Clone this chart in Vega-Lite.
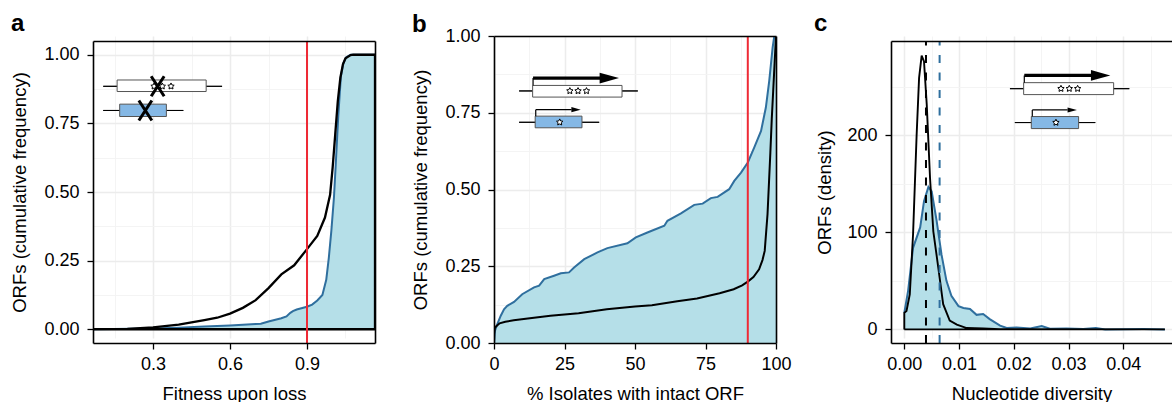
{
"$schema":"https://vega.github.io/schema/vega-lite/v6.json",
"padding":{"left":10,"top":12,"right":0,"bottom":2},
"background":"white",
"config":{"view":{"stroke":null},"font":"Liberation Sans",
"axis":{"labelFont":"Liberation Sans","titleFont":"Liberation Sans","labelFontSize":18,"titleFontSize":18.5,"titleFontWeight":"normal","labelColor":"black","titleColor":"black","tickColor":"black","tickSize":6,"tickWidth":1.3,"domainColor":"black","domainWidth":1.6,"labelPadding":8,"gridColor":"#ececec","gridWidth":1.5,"labelOverlap":false,"labelFlush":false},
"title":{"font":"Liberation Sans","fontSize":24,"fontWeight":"bold","color":"black","anchor":"start","frame":"group"}},
"datasets":{
"a_curves":[
{"group":"all","fitness":0.066,"cum":0},{"group":"all","fitness":0.2,"cum":0.001},{"group":"all","fitness":0.3,"cum":0.007},{"group":"all","fitness":0.4,"cum":0.017},{"group":"all","fitness":0.5,"cum":0.033},{"group":"all","fitness":0.55,"cum":0.042},{"group":"all","fitness":0.6,"cum":0.057},{"group":"all","fitness":0.65,"cum":0.078},{"group":"all","fitness":0.7,"cum":0.106},{"group":"all","fitness":0.75,"cum":0.15},{"group":"all","fitness":0.8,"cum":0.2},{"group":"all","fitness":0.85,"cum":0.233},{"group":"all","fitness":0.9,"cum":0.292},{"group":"all","fitness":0.94,"cum":0.34},{"group":"all","fitness":0.97,"cum":0.407},{"group":"all","fitness":0.99,"cum":0.49},{"group":"all","fitness":1.0,"cum":0.59},{"group":"all","fitness":1.01,"cum":0.71},{"group":"all","fitness":1.02,"cum":0.83},{"group":"all","fitness":1.03,"cum":0.916},{"group":"all","fitness":1.04,"cum":0.965},{"group":"all","fitness":1.05,"cum":0.987},{"group":"all","fitness":1.07,"cum":0.999},{"group":"all","fitness":1.08,"cum":1},{"group":"all","fitness":1.165,"cum":1},{"group":"all","fitness":1.165,"cum":0},{"group":"all","fitness":0.066,"cum":0},
{"group":"subset","fitness":0.066,"cum":0},{"group":"subset","fitness":0.3,"cum":0.003},{"group":"subset","fitness":0.4,"cum":0.006},{"group":"subset","fitness":0.5,"cum":0.01},{"group":"subset","fitness":0.6,"cum":0.014},{"group":"subset","fitness":0.7,"cum":0.019},{"group":"subset","fitness":0.72,"cum":0.02},{"group":"subset","fitness":0.75,"cum":0.028},{"group":"subset","fitness":0.8,"cum":0.04},{"group":"subset","fitness":0.82,"cum":0.047},{"group":"subset","fitness":0.835,"cum":0.06},{"group":"subset","fitness":0.845,"cum":0.066},{"group":"subset","fitness":0.86,"cum":0.072},{"group":"subset","fitness":0.9,"cum":0.082},{"group":"subset","fitness":0.92,"cum":0.09},{"group":"subset","fitness":0.94,"cum":0.105},{"group":"subset","fitness":0.96,"cum":0.125},{"group":"subset","fitness":0.975,"cum":0.18},{"group":"subset","fitness":0.985,"cum":0.26},{"group":"subset","fitness":0.995,"cum":0.36},{"group":"subset","fitness":1.005,"cum":0.48},{"group":"subset","fitness":1.012,"cum":0.6},{"group":"subset","fitness":1.022,"cum":0.78},{"group":"subset","fitness":1.032,"cum":0.92},{"group":"subset","fitness":1.042,"cum":0.97},{"group":"subset","fitness":1.052,"cum":0.99},{"group":"subset","fitness":1.07,"cum":1},{"group":"subset","fitness":1.165,"cum":1}],
"b_curves":[
{"group":"subset","pct":0,"cum":0},{"group":"subset","pct":0.35,"cum":0.04},{"group":"subset","pct":1.2,"cum":0.062},{"group":"subset","pct":2.4,"cum":0.089},{"group":"subset","pct":3.55,"cum":0.11},{"group":"subset","pct":4.7,"cum":0.121},{"group":"subset","pct":7.1,"cum":0.134},{"group":"subset","pct":10,"cum":0.159},{"group":"subset","pct":14.2,"cum":0.181},{"group":"subset","pct":16,"cum":0.187},{"group":"subset","pct":17.8,"cum":0.208},{"group":"subset","pct":21.3,"cum":0.219},{"group":"subset","pct":23.7,"cum":0.227},{"group":"subset","pct":26.6,"cum":0.23},{"group":"subset","pct":28.4,"cum":0.246},{"group":"subset","pct":32,"cum":0.273},{"group":"subset","pct":36.7,"cum":0.295},{"group":"subset","pct":40.2,"cum":0.309},{"group":"subset","pct":47.3,"cum":0.325},{"group":"subset","pct":50.3,"cum":0.344},{"group":"subset","pct":54.4,"cum":0.36},{"group":"subset","pct":60.4,"cum":0.382},{"group":"subset","pct":61.5,"cum":0.398},{"group":"subset","pct":66.3,"cum":0.422},{"group":"subset","pct":71,"cum":0.45},{"group":"subset","pct":74,"cum":0.454},{"group":"subset","pct":76.9,"cum":0.472},{"group":"subset","pct":79.3,"cum":0.476},{"group":"subset","pct":83.4,"cum":0.501},{"group":"subset","pct":85.2,"cum":0.528},{"group":"subset","pct":87.6,"cum":0.555},{"group":"subset","pct":90,"cum":0.588},{"group":"subset","pct":92.3,"cum":0.637},{"group":"subset","pct":94.7,"cum":0.691},{"group":"subset","pct":96.4,"cum":0.767},{"group":"subset","pct":97.6,"cum":0.854},{"group":"subset","pct":98.8,"cum":0.962},{"group":"subset","pct":99.4,"cum":1},{"group":"subset","pct":100,"cum":1},
{"group":"all","pct":0,"cum":0},{"group":"all","pct":0.05,"cum":0.03},{"group":"all","pct":0.3,"cum":0.05},{"group":"all","pct":1,"cum":0.056},{"group":"all","pct":2,"cum":0.064},{"group":"all","pct":4,"cum":0.069},{"group":"all","pct":7,"cum":0.074},{"group":"all","pct":12,"cum":0.08},{"group":"all","pct":20,"cum":0.089},{"group":"all","pct":30,"cum":0.097},{"group":"all","pct":40,"cum":0.11},{"group":"all","pct":50,"cum":0.119},{"group":"all","pct":56,"cum":0.123},{"group":"all","pct":65,"cum":0.136},{"group":"all","pct":72,"cum":0.145},{"group":"all","pct":80,"cum":0.162},{"group":"all","pct":85,"cum":0.175},{"group":"all","pct":88,"cum":0.188},{"group":"all","pct":90,"cum":0.2},{"group":"all","pct":92,"cum":0.215},{"group":"all","pct":94,"cum":0.24},{"group":"all","pct":95.2,"cum":0.27},{"group":"all","pct":96,"cum":0.3},{"group":"all","pct":97,"cum":0.42},{"group":"all","pct":98,"cum":0.62},{"group":"all","pct":98.5,"cum":0.73},{"group":"all","pct":99,"cum":0.82},{"group":"all","pct":99.5,"cum":0.91},{"group":"all","pct":100,"cum":1}],
"c_curves":[
{"group":"all","pi":0,"density":0},{"group":"all","pi":0,"density":17},{"group":"all","pi":0.0004,"density":19},{"group":"all","pi":0.001,"density":36},{"group":"all","pi":0.0016,"density":98},{"group":"all","pi":0.00225,"density":200},{"group":"all","pi":0.0027,"density":259},{"group":"all","pi":0.00317,"density":282},{"group":"all","pi":0.0036,"density":276},{"group":"all","pi":0.0041,"density":231.5},{"group":"all","pi":0.0047,"density":156},{"group":"all","pi":0.0053,"density":101},{"group":"all","pi":0.0062,"density":64},{"group":"all","pi":0.0071,"density":26},{"group":"all","pi":0.0083,"density":9},{"group":"all","pi":0.0096,"density":5},{"group":"all","pi":0.0114,"density":1.4},{"group":"all","pi":0.0144,"density":1},{"group":"all","pi":0.0175,"density":0.3},{"group":"all","pi":0.0476,"density":0},{"group":"all","pi":0,"density":0},
{"group":"subset","pi":0,"density":17},{"group":"subset","pi":0.0007,"density":40},{"group":"subset","pi":0.0016,"density":84},{"group":"subset","pi":0.0029,"density":105},{"group":"subset","pi":0.0036,"density":132},{"group":"subset","pi":0.0044,"density":146.6},{"group":"subset","pi":0.005,"density":142},{"group":"subset","pi":0.0059,"density":112},{"group":"subset","pi":0.0068,"density":77},{"group":"subset","pi":0.0077,"density":50},{"group":"subset","pi":0.0086,"density":34.6},{"group":"subset","pi":0.0099,"density":24},{"group":"subset","pi":0.0108,"density":22},{"group":"subset","pi":0.012,"density":21},{"group":"subset","pi":0.0132,"density":15},{"group":"subset","pi":0.0144,"density":15.8},{"group":"subset","pi":0.0156,"density":10.6},{"group":"subset","pi":0.0175,"density":3.8},{"group":"subset","pi":0.0187,"density":1.4},{"group":"subset","pi":0.0205,"density":2},{"group":"subset","pi":0.023,"density":1},{"group":"subset","pi":0.0251,"density":3.4},{"group":"subset","pi":0.0266,"density":0.7},{"group":"subset","pi":0.0296,"density":1},{"group":"subset","pi":0.0327,"density":0.3},{"group":"subset","pi":0.035,"density":1.4},{"group":"subset","pi":0.0367,"density":0},{"group":"subset","pi":0.0437,"density":0.3},{"group":"subset","pi":0.0476,"density":0}],
"a_boxes":[{"gene":"long","start":0.16,"end":0.507,"from":0.106,"to":0.569,"low":0.866,"high":0.908,"mid":0.885},{"gene":"short","start":0.17,"end":0.352,"from":0.106,"to":0.418,"low":0.775,"high":0.82,"mid":0.797}],
"a_stars":[{"at":0.304,"level":0.885},{"at":0.336,"level":0.885},{"at":0.37,"level":0.885}],
"a_cross":[{"at":0.318,"level":0.885},{"at":0.27,"level":0.797}],
"b_boxes":[{"gene":"long","start":13.7,"end":45.4,"from":8.9,"to":51,"low":0.801,"high":0.839,"mid":0.821,"base":13.85,"tip":37.9,"head":40.9,"arrow":0.863},{"gene":"short","start":14.6,"end":31.2,"from":8.9,"to":37.3,"low":0.701,"high":0.739,"mid":0.719,"base":14.8,"tip":27.5,"head":29.1,"arrow":0.76}],
"b_stars":[{"at":26.9,"level":0.821},{"at":29.8,"level":0.821},{"at":32.8,"level":0.821},{"at":23.3,"level":0.719}],
"c_boxes":[{"gene":"long","start":0.0218,"end":0.03824,"from":0.0193,"to":0.0411,"low":241.8,"high":254.1,"mid":247.9,"base":0.02192,"tip":0.0342,"head":0.03586,"arrow":261.6},{"gene":"short","start":0.0232,"end":0.03184,"from":0.0202,"to":0.03489,"low":206.8,"high":219.2,"mid":213,"base":0.02338,"tip":0.02983,"head":0.03068,"arrow":226}],
"c_stars":[{"at":0.02862,"level":247.9},{"at":0.03014,"level":247.9},{"at":0.03166,"level":247.9},{"at":0.0277,"level":213}],
"a_cut":[{"at":0.9}],"b_cut":[{"at":90}],
"c_means":[{"group":"all","at":0.00396},{"group":"subset","at":0.00645}]
},
"concat":[
{"concat":[
{"width":282,"height":307,"title":{"text":"a","dx":-82,"offset":0},
"resolve":{"axis":{"x":"independent","y":"independent"}},
"layer":[
{"data":{"name":"a_cut"},"mark":{"type":"rule","opacity":0},"encoding":{
"x":{"field":"at","type":"quantitative","scale":{"domain":[0.066,1.165],"nice":false,"zero":false},"axis":{"orient":"bottom","values":[0.15,0.45,0.75,1.05],"grid":true,"gridColor":"#f3f3f3","gridWidth":0.9,"labels":false,"ticks":false,"domain":false,"title":null}},"y":{"datum":-0.05,"axis":null},"y2":{"datum":1.05}}},
{"data":{"name":"a_boxes"},"mark":{"type":"rule","color":"black","strokeWidth":1},"encoding":{"x":{"field":"from","type":"quantitative","axis":{"orient":"bottom","values":[0.3,0.6,0.9],"grid":true,"labels":false,"ticks":false,"domain":false,"title":null}},"x2":{"field":"to"},"y":{"field":"mid","type":"quantitative","scale":{"domain":[-0.05,1.05],"nice":false,"zero":false,"range":[307,5]},"axis":{"orient":"left","values":[0,0.25,0.5,0.75,1],"grid":true,"labels":false,"ticks":false,"domain":false,"title":null}}}},
{"data":{"name":"a_curves"},"transform":[{"filter":"datum.group==='subset'"}],"mark":{"type":"area","color":"#b5dfe8","clip":true},"encoding":{
"x":{"field":"fitness","type":"quantitative","axis":{"orient":"bottom","values":[0.3,0.6,0.9],"format":".1f","grid":false,"zindex":1,"title":"Fitness upon loss","titlePadding":11,"labelPadding":6}},
"y":{"field":"cum","type":"quantitative","axis":{"orient":"left","values":[0,0.25,0.5,0.75,1],"format":".2f","grid":false,"zindex":1,"title":"ORFs (cumulative frequency)","titlePadding":14}}}},
{"data":{"name":"a_curves"},"transform":[{"filter":"datum.group==='subset'"}],"mark":{"type":"line","color":"#2f6f9e","strokeWidth":2,"clip":true},"encoding":{
"x":{"field":"fitness","type":"quantitative","axis":null},
"y":{"field":"cum","type":"quantitative","axis":{"orient":"left","values":[0.125,0.375,0.625,0.875],"grid":true,"gridColor":"#f3f3f3","gridWidth":0.9,"labels":false,"ticks":false,"domain":false,"title":null}}}},
{"data":{"name":"a_boxes"},"mark":{"type":"rule","color":"black","strokeWidth":1},"encoding":{"x":{"field":"from","type":"quantitative","axis":null},"x2":{"field":"to"},"y":{"field":"mid","type":"quantitative","axis":null}}},
{"data":{"name":"a_boxes"},"mark":{"type":"rect","stroke":"#555555","strokeWidth":1},"encoding":{"x":{"field":"start","type":"quantitative","axis":null},"x2":{"field":"end"},"y":{"field":"low","type":"quantitative","axis":null},"y2":{"field":"high"},"fill":{"field":"gene","type":"nominal","legend":null,"scale":{"domain":["long","short"],"range":["white","#85b8e5"]}}}},
{"data":{"name":"a_stars"},"mark":{"type":"point","filled":true,"fill":"white","stroke":"black","strokeWidth":1,"opacity":1,"size":45,"shape":"M0,-1L.29,-.4L.95,-.31L.48,.15L.59,.81L0,.5L-.59,.81L-.48,.15L-.95,-.31L-.29,-.4Z"},"encoding":{"x":{"field":"at","type":"quantitative","axis":null},"y":{"field":"level","type":"quantitative","axis":null}}},
{"data":{"name":"a_cross"},"mark":{"type":"point","filled":false,"stroke":"black","strokeWidth":3,"opacity":1,"size":400,"shape":"M-.65,-1L.65,1M-.65,1L.65,-1"},"encoding":{"x":{"field":"at","type":"quantitative","axis":null},"y":{"field":"level","type":"quantitative","axis":null}}},
{"data":{"name":"a_curves"},"transform":[{"filter":"datum.group==='all'"}],"mark":{"type":"line","color":"black","strokeWidth":2.3,"clip":true},"encoding":{
"order":{"value":null},
"x":{"field":"fitness","type":"quantitative","axis":{"orient":"top","offset":-5,"labels":false,"ticks":false,"grid":false,"domain":true,"title":null,"zindex":1,"values":[]}},
"y":{"field":"cum","type":"quantitative","axis":{"orient":"right","labels":false,"ticks":false,"grid":false,"domain":true,"title":null,"zindex":1,"values":[]}}}},
{"data":{"name":"a_cut"},"mark":{"type":"rule","color":"#ee2a35","strokeWidth":2},"encoding":{"x":{"field":"at","type":"quantitative","axis":null},"y":{"datum":-0.05,"axis":null},"y2":{"datum":1.05}}}
]},
{"width":282,"height":307,"title":{"text":"b","dx":-82,"offset":-10},
"resolve":{"axis":{"x":"independent","y":"independent"}},
"layer":[
{"data":{"name":"b_cut"},"mark":{"type":"rule","opacity":0},"encoding":{
"x":{"field":"at","type":"quantitative","scale":{"domain":[0,100],"nice":false,"zero":false},"axis":{"orient":"bottom","values":[12.5,37.5,62.5,87.5],"grid":true,"gridColor":"#f3f3f3","gridWidth":0.9,"labels":false,"ticks":false,"domain":false,"title":null}}}},
{"data":{"name":"b_boxes"},"mark":{"type":"rule","color":"black","strokeWidth":1},"encoding":{"x":{"field":"from","type":"quantitative","axis":{"orient":"bottom","values":[0,25,50,75,100],"grid":true,"labels":false,"ticks":false,"domain":false,"title":null}},"x2":{"field":"to"},"y":{"field":"mid","type":"quantitative","scale":{"domain":[0,1],"nice":false,"zero":false},"axis":{"orient":"left","values":[0,0.25,0.5,0.75,1],"grid":true,"labels":false,"ticks":false,"domain":false,"title":null}}}},
{"data":{"name":"b_curves"},"transform":[{"filter":"datum.group==='subset'"}],"mark":{"type":"area","color":"#b5dfe8","clip":true},"encoding":{
"x":{"field":"pct","type":"quantitative","axis":{"orient":"bottom","values":[0,25,50,75,100],"format":"d","grid":false,"zindex":1,"title":"% Isolates with intact ORF","titlePadding":11,"labelPadding":6}},
"y":{"field":"cum","type":"quantitative","axis":{"orient":"left","values":[0,0.25,0.5,0.75,1],"format":".2f","grid":false,"zindex":1,"title":"ORFs (cumulative frequency)","titlePadding":14}}}},
{"data":{"name":"b_curves"},"transform":[{"filter":"datum.group==='subset'"}],"mark":{"type":"line","color":"#2f6f9e","strokeWidth":2,"clip":true},"encoding":{
"x":{"field":"pct","type":"quantitative","axis":null},
"y":{"field":"cum","type":"quantitative","axis":{"orient":"left","values":[0.125,0.375,0.625,0.875],"grid":true,"gridColor":"#f3f3f3","gridWidth":0.9,"labels":false,"ticks":false,"domain":false,"title":null}}}},
{"data":{"name":"b_boxes"},"mark":{"type":"rule","color":"black","strokeWidth":1},"encoding":{"x":{"field":"from","type":"quantitative","axis":null},"x2":{"field":"to"},"y":{"field":"mid","type":"quantitative","axis":null}}},
{"data":{"name":"b_boxes"},"mark":{"type":"rect","stroke":"#555555","strokeWidth":1},"encoding":{"x":{"field":"start","type":"quantitative","axis":null},"x2":{"field":"end"},"y":{"field":"low","type":"quantitative","axis":null},"y2":{"field":"high"},"fill":{"field":"gene","type":"nominal","legend":null,"scale":{"domain":["long","short"],"range":["white","#85b8e5"]}}}},
{"data":{"name":"b_boxes"},"mark":{"type":"rule","color":"black","strokeWidth":1.2},"encoding":{"x":{"field":"base","type":"quantitative","axis":null},"y":{"field":"high","type":"quantitative","axis":null},"y2":{"field":"arrow"}}},
{"data":{"name":"b_boxes"},"mark":{"type":"rule","color":"black"},"encoding":{"x":{"field":"base","type":"quantitative","axis":null},"x2":{"field":"tip"},"y":{"field":"arrow","type":"quantitative","axis":null},"strokeWidth":{"field":"gene","type":"nominal","legend":null,"scale":{"domain":["long","short"],"range":[3.2,1.2]}}}},
{"data":{"name":"b_boxes"},"mark":{"type":"point","filled":true,"color":"black","opacity":1,"shape":"M-1,-.55L1,0L-1,.55Z"},"encoding":{"x":{"field":"head","type":"quantitative","axis":null},"y":{"field":"arrow","type":"quantitative","axis":null},"size":{"field":"gene","type":"nominal","legend":null,"scale":{"domain":["long","short"],"range":[376,87]}}}},
{"data":{"name":"b_stars"},"mark":{"type":"point","filled":true,"fill":"white","stroke":"black","strokeWidth":1,"opacity":1,"size":45,"shape":"M0,-1L.29,-.4L.95,-.31L.48,.15L.59,.81L0,.5L-.59,.81L-.48,.15L-.95,-.31L-.29,-.4Z"},"encoding":{"x":{"field":"at","type":"quantitative","axis":null},"y":{"field":"level","type":"quantitative","axis":null}}},
{"data":{"name":"b_curves"},"transform":[{"filter":"datum.group==='all'"}],"mark":{"type":"line","color":"black","strokeWidth":2,"clip":true},"encoding":{
"x":{"field":"pct","type":"quantitative","axis":{"orient":"top","labels":false,"ticks":false,"grid":false,"domain":true,"title":null,"zindex":1,"values":[]}},
"y":{"field":"cum","type":"quantitative","axis":{"orient":"right","labels":false,"ticks":false,"grid":false,"domain":true,"title":null,"zindex":1,"values":[]}}}},
{"data":{"name":"b_cut"},"mark":{"type":"rule","color":"#ee2a35","strokeWidth":2},"encoding":{"x":{"field":"at","type":"quantitative","axis":null}}}
]}
],"columns":2,"align":"none","spacing":36},
{"width":281,"height":307,"title":{"text":"c","dx":-77,"offset":0},
"resolve":{"axis":{"x":"independent","y":"independent"}},
"layer":[
{"data":{"name":"c_means"},"mark":{"type":"rule","opacity":0},"encoding":{
"x":{"field":"at","type":"quantitative","scale":{"domain":[-0.00243,0.0489],"nice":false,"zero":false},"axis":{"orient":"bottom","values":[0.005,0.015,0.025,0.035,0.045],"grid":true,"gridColor":"#f3f3f3","gridWidth":0.9,"labels":false,"ticks":false,"domain":false,"title":null}},"y":{"datum":-14,"axis":null},"y2":{"datum":297}}},
{"data":{"name":"c_boxes"},"mark":{"type":"rule","color":"black","strokeWidth":1},"encoding":{"x":{"field":"from","type":"quantitative","axis":{"orient":"bottom","values":[0,0.01,0.02,0.03,0.04],"grid":true,"labels":false,"ticks":false,"domain":false,"title":null}},"x2":{"field":"to"},"y":{"field":"mid","type":"quantitative","scale":{"domain":[-14,297],"nice":false,"zero":false,"range":[307,5]},"axis":{"orient":"left","values":[0,100,200],"grid":true,"labels":false,"ticks":false,"domain":false,"title":null}}}},
{"data":{"name":"c_curves"},"transform":[{"filter":"datum.group==='subset'"}],"mark":{"type":"area","color":"#b5dfe8","clip":true},"encoding":{
"x":{"field":"pi","type":"quantitative","axis":{"orient":"bottom","values":[0,0.01,0.02,0.03,0.04],"format":".2f","grid":false,"zindex":1,"title":"Nucleotide diversity","titlePadding":11,"labelPadding":6}},
"y":{"field":"density","type":"quantitative","axis":{"orient":"left","values":[0,100,200],"format":"d","grid":false,"zindex":1,"title":"ORFs (density)","titlePadding":12}}}},
{"data":{"name":"c_curves"},"transform":[{"filter":"datum.group==='subset'"}],"mark":{"type":"line","color":"#2f6f9e","strokeWidth":2,"clip":true},"encoding":{
"x":{"field":"pi","type":"quantitative","axis":null},
"y":{"field":"density","type":"quantitative","axis":{"orient":"left","values":[50,150,250],"grid":true,"gridColor":"#f3f3f3","gridWidth":0.9,"labels":false,"ticks":false,"domain":false,"title":null}}}},
{"data":{"name":"c_boxes"},"mark":{"type":"rule","color":"black","strokeWidth":1},"encoding":{"x":{"field":"from","type":"quantitative","axis":null},"x2":{"field":"to"},"y":{"field":"mid","type":"quantitative","axis":null}}},
{"data":{"name":"c_boxes"},"mark":{"type":"rect","stroke":"#555555","strokeWidth":1},"encoding":{"x":{"field":"start","type":"quantitative","axis":null},"x2":{"field":"end"},"y":{"field":"low","type":"quantitative","axis":null},"y2":{"field":"high"},"fill":{"field":"gene","type":"nominal","legend":null,"scale":{"domain":["long","short"],"range":["white","#85b8e5"]}}}},
{"data":{"name":"c_boxes"},"mark":{"type":"rule","color":"black","strokeWidth":1.2},"encoding":{"x":{"field":"base","type":"quantitative","axis":null},"y":{"field":"high","type":"quantitative","axis":null},"y2":{"field":"arrow"}}},
{"data":{"name":"c_boxes"},"mark":{"type":"rule","color":"black"},"encoding":{"x":{"field":"base","type":"quantitative","axis":null},"x2":{"field":"tip"},"y":{"field":"arrow","type":"quantitative","axis":null},"strokeWidth":{"field":"gene","type":"nominal","legend":null,"scale":{"domain":["long","short"],"range":[3.2,1.2]}}}},
{"data":{"name":"c_boxes"},"mark":{"type":"point","filled":true,"color":"black","opacity":1,"shape":"M-1,-.55L1,0L-1,.55Z"},"encoding":{"x":{"field":"head","type":"quantitative","axis":null},"y":{"field":"arrow","type":"quantitative","axis":null},"size":{"field":"gene","type":"nominal","legend":null,"scale":{"domain":["long","short"],"range":[376,87]}}}},
{"data":{"name":"c_stars"},"mark":{"type":"point","filled":true,"fill":"white","stroke":"black","strokeWidth":1,"opacity":1,"size":45,"shape":"M0,-1L.29,-.4L.95,-.31L.48,.15L.59,.81L0,.5L-.59,.81L-.48,.15L-.95,-.31L-.29,-.4Z"},"encoding":{"x":{"field":"at","type":"quantitative","axis":null},"y":{"field":"level","type":"quantitative","axis":null}}},
{"data":{"name":"c_curves"},"transform":[{"filter":"datum.group==='all'"}],"mark":{"type":"line","color":"black","strokeWidth":1.9,"clip":true},"encoding":{
"order":{"value":null},
"x":{"field":"pi","type":"quantitative","axis":{"orient":"top","offset":-5,"labels":false,"ticks":false,"grid":false,"domain":true,"title":null,"zindex":1,"values":[]}},
"y":{"field":"density","type":"quantitative","axis":null}}},
{"data":{"name":"c_means"},"mark":{"type":"rule","strokeWidth":2,"strokeDash":[8,9.5]},"encoding":{"x":{"field":"at","type":"quantitative","axis":null},"y":{"datum":-14,"axis":null},"y2":{"datum":297},"color":{"field":"group","type":"nominal","legend":null,"scale":{"domain":["all","subset"],"range":["black","#2f6f9e"]}}}}
]}
],
"columns":2,"align":"none","spacing":22
}
